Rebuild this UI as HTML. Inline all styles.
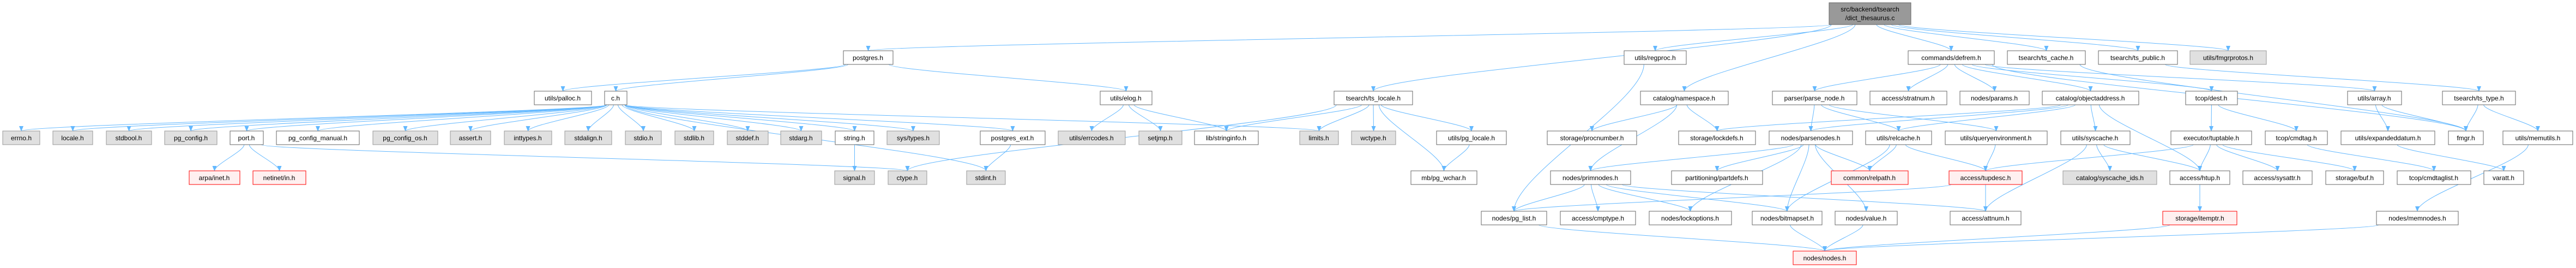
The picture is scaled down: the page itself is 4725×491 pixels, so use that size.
<!DOCTYPE html>
<html><head><meta charset="utf-8">
<style>
html,body{margin:0;padding:0;background:#fff;}
svg{display:block;}
text{font-family:"Liberation Sans",sans-serif;font-size:12px;fill:#000;text-anchor:middle;}
.w{fill:#fff;stroke:#666;stroke-width:1;}
.g{fill:#e0e0e0;stroke:#999;stroke-width:1;}
.r{fill:#fff0f0;stroke:#f00;stroke-width:1;}
.root{fill:#999;stroke:#666;}
.e{fill:none;stroke:#63b8ff;stroke-width:1;}
</style></head>
<body>
<svg id="s" width="4725" height="491" viewBox="0 0 4725 491" xmlns="http://www.w3.org/2000/svg">
<defs><marker id="a" markerWidth="10" markerHeight="8" refX="9" refY="4" orient="auto" markerUnits="userSpaceOnUse"><path d="M0,0 L10,4 L0,8 z" fill="#63b8ff"/></marker></defs>
<g id="edges"></g>
<g id="nodes">
<g id="root"><rect class="root" x="3355" y="5" width="150" height="40"/><text x="3430" y="21">src/backend/tsearch</text><text x="3430" y="37">/dict_thesaurus.c</text></g>

<g id="postgres"><rect class="w" x="1547" y="93" width="91" height="25"/><text x="1592" y="110">postgres.h</text></g>
<g id="regproc"><rect class="w" x="2979" y="93" width="114" height="25"/><text x="3036" y="110">utils/regproc.h</text></g>
<g id="defrem"><rect class="w" x="3500" y="93" width="158" height="25"/><text x="3579" y="110">commands/defrem.h</text></g>
<g id="tscache"><rect class="w" x="3682" y="93" width="143" height="25"/><text x="3753" y="110">tsearch/ts_cache.h</text></g>
<g id="tspublic"><rect class="w" x="3849" y="93" width="145" height="25"/><text x="3921" y="110">tsearch/ts_public.h</text></g>
<g id="fmgrprotos"><rect class="g" x="4017" y="93" width="140" height="25"/><text x="4087" y="110">utils/fmgrprotos.h</text></g>

<g id="palloc"><rect class="w" x="980" y="167" width="105" height="25"/><text x="1032" y="184">utils/palloc.h</text></g>
<g id="ch"><rect class="w" x="1109" y="167" width="41" height="25"/><text x="1129" y="184">c.h</text></g>
<g id="elog"><rect class="w" x="2018" y="167" width="95" height="25"/><text x="2065" y="184">utils/elog.h</text></g>
<g id="tslocale"><rect class="w" x="2447" y="167" width="144" height="25"/><text x="2519" y="184">tsearch/ts_locale.h</text></g>
<g id="namespace"><rect class="w" x="3009" y="167" width="161" height="25"/><text x="3089" y="184">catalog/namespace.h</text></g>
<g id="parsenode"><rect class="w" x="3251" y="167" width="155" height="25"/><text x="3328" y="184">parser/parse_node.h</text></g>
<g id="stratnum"><rect class="w" x="3430" y="167" width="141" height="25"/><text x="3500" y="184">access/stratnum.h</text></g>
<g id="params"><rect class="w" x="3595" y="167" width="127" height="25"/><text x="3658" y="184">nodes/params.h</text></g>
<g id="objaddr"><rect class="w" x="3746" y="167" width="177" height="25"/><text x="3834" y="184">catalog/objectaddress.h</text></g>
<g id="dest"><rect class="w" x="4009" y="167" width="95" height="25"/><text x="4056" y="184">tcop/dest.h</text></g>
<g id="array"><rect class="w" x="4306" y="167" width="99" height="25"/><text x="4355" y="184">utils/array.h</text></g>
<g id="tstype"><rect class="w" x="4480" y="167" width="134" height="25"/><text x="4547" y="184">tsearch/ts_type.h</text></g>

<g id="errno"><rect class="g" x="5" y="240" width="68" height="25"/><text x="39" y="257">errno.h</text></g>
<g id="locale"><rect class="g" x="97" y="240" width="73" height="25"/><text x="133" y="257">locale.h</text></g>
<g id="stdbool"><rect class="g" x="195" y="240" width="83" height="25"/><text x="236" y="257">stdbool.h</text></g>
<g id="pgconfig"><rect class="g" x="302" y="240" width="96" height="25"/><text x="350" y="257">pg_config.h</text></g>
<g id="port"><rect class="w" x="422" y="240" width="61" height="25"/><text x="452" y="257">port.h</text></g>
<g id="pgcm"><rect class="w" x="507" y="240" width="152" height="25"/><text x="583" y="257">pg_config_manual.h</text></g>
<g id="pgcos"><rect class="g" x="684" y="240" width="119" height="25"/><text x="743" y="257">pg_config_os.h</text></g>
<g id="assert"><rect class="g" x="826" y="240" width="74" height="25"/><text x="863" y="257">assert.h</text></g>
<g id="inttypes"><rect class="g" x="925" y="240" width="87" height="25"/><text x="968" y="257">inttypes.h</text></g>
<g id="stdalign"><rect class="g" x="1036" y="240" width="86" height="25"/><text x="1079" y="257">stdalign.h</text></g>
<g id="stdio"><rect class="g" x="1147" y="240" width="66" height="25"/><text x="1180" y="257">stdio.h</text></g>
<g id="stdlib"><rect class="g" x="1238" y="240" width="71" height="25"/><text x="1273" y="257">stdlib.h</text></g>
<g id="stddef"><rect class="g" x="1334" y="240" width="75" height="25"/><text x="1371" y="257">stddef.h</text></g>
<g id="stdarg"><rect class="g" x="1432" y="240" width="75" height="25"/><text x="1469" y="257">stdarg.h</text></g>
<g id="string"><rect class="w" x="1532" y="240" width="71" height="25"/><text x="1567" y="257">string.h</text></g>
<g id="systypes"><rect class="g" x="1627" y="240" width="96" height="25"/><text x="1675" y="257">sys/types.h</text></g>
<g id="pgext"><rect class="w" x="1798" y="240" width="119" height="25"/><text x="1857" y="257">postgres_ext.h</text></g>
<g id="errcodes"><rect class="g" x="1941" y="240" width="123" height="25"/><text x="2002" y="257">utils/errcodes.h</text></g>
<g id="setjmp"><rect class="g" x="2089" y="240" width="79" height="25"/><text x="2128" y="257">setjmp.h</text></g>
<g id="stringinfo"><rect class="w" x="2191" y="240" width="117" height="25"/><text x="2249" y="257">lib/stringinfo.h</text></g>
<g id="limits"><rect class="g" x="2384" y="240" width="71" height="25"/><text x="2419" y="257">limits.h</text></g>
<g id="wctype"><rect class="g" x="2479" y="240" width="81" height="25"/><text x="2519" y="257">wctype.h</text></g>
<g id="pglocale"><rect class="w" x="2635" y="240" width="128" height="25"/><text x="2699" y="257">utils/pg_locale.h</text></g>
<g id="procnumber"><rect class="w" x="2838" y="240" width="164" height="25"/><text x="2920" y="257">storage/procnumber.h</text></g>
<g id="lockdefs"><rect class="w" x="3079" y="240" width="141" height="25"/><text x="3149" y="257">storage/lockdefs.h</text></g>
<g id="parsenodes"><rect class="w" x="3245" y="240" width="153" height="25"/><text x="3321" y="257">nodes/parsenodes.h</text></g>
<g id="relcache"><rect class="w" x="3422" y="240" width="121" height="25"/><text x="3482" y="257">utils/relcache.h</text></g>
<g id="queryenv"><rect class="w" x="3568" y="240" width="187" height="25"/><text x="3661" y="257">utils/queryenvironment.h</text></g>
<g id="syscache"><rect class="w" x="3780" y="240" width="127" height="25"/><text x="3843" y="257">utils/syscache.h</text></g>
<g id="tuptable"><rect class="w" x="3982" y="240" width="148" height="25"/><text x="4056" y="257">executor/tuptable.h</text></g>
<g id="cmdtag"><rect class="w" x="4155" y="240" width="114" height="25"/><text x="4212" y="257">tcop/cmdtag.h</text></g>
<g id="expdatum"><rect class="w" x="4294" y="240" width="172" height="25"/><text x="4380" y="257">utils/expandeddatum.h</text></g>
<g id="fmgr"><rect class="w" x="4491" y="240" width="64" height="25"/><text x="4523" y="257">fmgr.h</text></g>
<g id="memutils"><rect class="w" x="4591" y="240" width="128" height="25"/><text x="4655" y="257">utils/memutils.h</text></g>

<g id="arpa"><rect class="r" x="347" y="313" width="93" height="25"/><text x="393" y="330">arpa/inet.h</text></g>
<g id="netinet"><rect class="r" x="464" y="313" width="97" height="25"/><text x="512" y="330">netinet/in.h</text></g>
<g id="signal"><rect class="g" x="1531" y="313" width="73" height="25"/><text x="1567" y="330">signal.h</text></g>
<g id="ctype"><rect class="g" x="1629" y="313" width="71" height="25"/><text x="1664" y="330">ctype.h</text></g>
<g id="stdint"><rect class="g" x="1773" y="313" width="71" height="25"/><text x="1808" y="330">stdint.h</text></g>
<g id="pgwchar"><rect class="w" x="2588" y="313" width="121" height="25"/><text x="2648" y="330">mb/pg_wchar.h</text></g>
<g id="primnodes"><rect class="w" x="2844" y="313" width="147" height="25"/><text x="2917" y="330">nodes/primnodes.h</text></g>
<g id="partdefs"><rect class="w" x="3066" y="313" width="167" height="25"/><text x="3149" y="330">partitioning/partdefs.h</text></g>
<g id="relpath"><rect class="r" x="3359" y="313" width="141" height="25"/><text x="3429" y="330">common/relpath.h</text></g>
<g id="tupdesc"><rect class="r" x="3575" y="313" width="134" height="25"/><text x="3642" y="330">access/tupdesc.h</text></g>
<g id="scids"><rect class="g" x="3784" y="313" width="172" height="25"/><text x="3870" y="330">catalog/syscache_ids.h</text></g>
<g id="htup"><rect class="w" x="3980" y="313" width="110" height="25"/><text x="4035" y="330">access/htup.h</text></g>
<g id="sysattr"><rect class="w" x="4114" y="313" width="127" height="25"/><text x="4177" y="330">access/sysattr.h</text></g>
<g id="buf"><rect class="w" x="4266" y="313" width="106" height="25"/><text x="4319" y="330">storage/buf.h</text></g>
<g id="cmdtaglist"><rect class="w" x="4397" y="313" width="135" height="25"/><text x="4464" y="330">tcop/cmdtaglist.h</text></g>
<g id="varatt"><rect class="w" x="4556" y="313" width="73" height="25"/><text x="4592" y="330">varatt.h</text></g>

<g id="pglist"><rect class="w" x="2717" y="387" width="120" height="25"/><text x="2777" y="404">nodes/pg_list.h</text></g>
<g id="cmptype"><rect class="w" x="2862" y="387" width="138" height="25"/><text x="2931" y="404">access/cmptype.h</text></g>
<g id="lockopt"><rect class="w" x="3025" y="387" width="151" height="25"/><text x="3100" y="404">nodes/lockoptions.h</text></g>
<g id="bitmapset"><rect class="w" x="3214" y="387" width="128" height="25"/><text x="3278" y="404">nodes/bitmapset.h</text></g>
<g id="value"><rect class="w" x="3366" y="387" width="114" height="25"/><text x="3423" y="404">nodes/value.h</text></g>
<g id="attnum"><rect class="w" x="3577" y="387" width="130" height="25"/><text x="3642" y="404">access/attnum.h</text></g>
<g id="itemptr"><rect class="r" x="3967" y="387" width="136" height="25"/><text x="4035" y="404">storage/itemptr.h</text></g>
<g id="memnodes"><rect class="w" x="4359" y="387" width="150" height="25"/><text x="4434" y="404">nodes/memnodes.h</text></g>

<g id="nodesh"><rect class="r" x="3289" y="460" width="116" height="25"/><text x="3347" y="477">nodes/nodes.h</text></g>
</g>
</svg>
<script>
(function(){
var E=[
["root","postgres"],["root","regproc"],["root","tslocale"],["root","namespace"],["root","defrem"],["root","tscache"],["root","tspublic"],["root","fmgrprotos"],
["postgres","palloc"],["postgres","ch"],["postgres","elog"],
["ch","errno"],["ch","locale"],["ch","stdbool"],["ch","pgconfig"],["ch","port"],["ch","pgcm"],["ch","pgcos"],["ch","assert"],["ch","inttypes"],["ch","stdalign"],["ch","stdio"],["ch","stdlib"],["ch","stddef"],["ch","stdarg"],["ch","string"],["ch","systypes"],["ch","pgext"],["ch","stdint"],["ch","limits"],
["port","arpa"],["port","netinet"],["port","ctype"],["string","signal"],["pgext","stdint"],
["elog","errcodes"],["elog","setjmp"],["elog","stringinfo"],
["tslocale","ctype"],["tslocale","limits"],["tslocale","wctype"],["tslocale","pglocale"],["tslocale","pgwchar"],["tslocale","stringinfo"],
["pglocale","pgwchar"],["regproc","pglist"],
["namespace","procnumber"],["namespace","primnodes"],["namespace","lockdefs"],
["defrem","parsenode"],["defrem","stratnum"],["defrem","params"],["defrem","objaddr"],["defrem","dest"],["defrem","array"],["defrem","fmgr"],
["tspublic","tstype"],["tscache","fmgr"],
["parsenode","parsenodes"],["parsenode","relcache"],["parsenode","queryenv"],
["objaddr","lockdefs"],["objaddr","parsenodes"],["objaddr","relcache"],["objaddr","syscache"],["objaddr","htup"],
["parsenodes","primnodes"],["parsenodes","partdefs"],["parsenodes","lockopt"],["parsenodes","relpath"],["parsenodes","bitmapset"],["parsenodes","value"],
["relcache","relpath"],["relcache","tupdesc"],["relcache","bitmapset"],
["queryenv","tupdesc"],["syscache","attnum"],["syscache","scids"],["syscache","htup"],
["tupdesc","attnum"],["tupdesc","pglist"],
["primnodes","pglist"],["primnodes","cmptype"],["primnodes","lockopt"],["primnodes","bitmapset"],["primnodes","attnum"],
["pglist","nodesh"],["bitmapset","nodesh"],["value","nodesh"],
["dest","tuptable"],["dest","cmdtag"],
["tuptable","htup"],["tuptable","sysattr"],["tuptable","buf"],["tuptable","tupdesc"],
["cmdtag","cmdtaglist"],["array","expdatum"],["array","fmgr"],["expdatum","varatt"],
["tstype","fmgr"],["tstype","memutils"],["memutils","memnodes"],["memnodes","nodesh"],
["htup","itemptr"],["itemptr","nodesh"]
];
function R(id){var r=document.querySelector("#"+id+" rect");return{x:+r.getAttribute("x"),y:+r.getAttribute("y"),w:+r.getAttribute("width"),h:+r.getAttribute("height")};}
var g=document.getElementById("edges"),ns="http://www.w3.org/2000/svg";
E.forEach(function(e){
var a=R(e[0]),b=R(e[1]);var x1,y1,x2,y2;
var acx=a.x+a.w/2,bcx=b.x+b.w/2;
if(b.y>a.y+a.h){x1=acx+Math.max(-a.w/2+4,Math.min(a.w/2-4,(bcx-acx)*0.08));y1=a.y+a.h;x2=bcx;y2=b.y;}
else if(b.y+b.h<a.y){x1=acx;y1=a.y;x2=bcx;y2=b.y+b.h;}
else{if(bcx<acx){x1=a.x;x2=b.x+b.w;}else{x1=a.x+a.w;x2=b.x;}y1=a.y+a.h/2;y2=b.y+b.h/2;}
var p=document.createElementNS(ns,"path");
var my=(y1+y2)/2;
p.setAttribute("d","M"+x1+","+y1+" C"+x1+","+(y1+(y2-y1)*0.25)+" "+x2+","+(y2-(y2-y1)*0.25)+" "+x2+","+y2);
p.setAttribute("class","e");p.setAttribute("marker-end","url(#a)");
g.appendChild(p);
});
})();
</script>
</body></html>
